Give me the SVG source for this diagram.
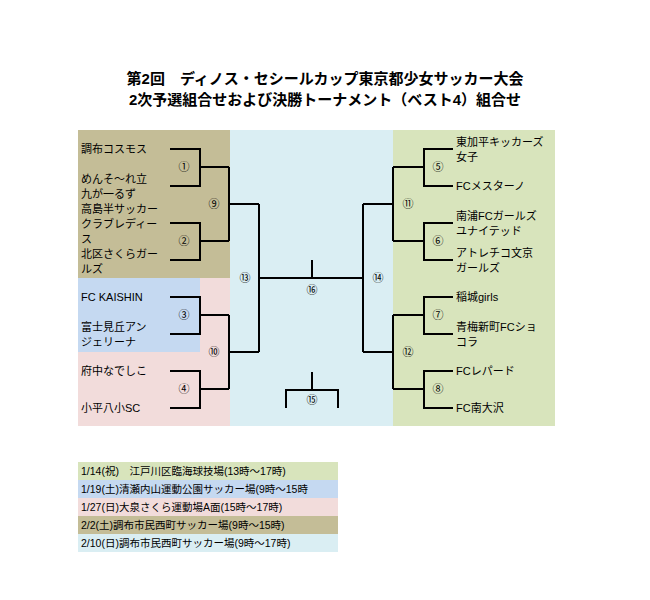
<svg xmlns="http://www.w3.org/2000/svg" width="650" height="600" viewBox="0 0 650 600">
<style>
text{font-family:"Liberation Sans","Noto Sans CJK JP",sans-serif;font-size:11px;fill:#000}
.t{font-size:15px;font-weight:bold;text-anchor:middle}
.n{font-size:11px;text-anchor:middle}
.l{font-size:10.5px}
#connectors path{fill:none;stroke:#000;stroke-width:2}
</style>
<rect width="650" height="600" fill="#fff"/>
<g id="bg">
<rect x="78" y="130" width="152" height="148" fill="#c4bd97"/>
<rect x="78" y="278" width="152" height="148" fill="#f2dcdb"/>
<rect x="78" y="278" width="122" height="74" fill="#c5d9f1"/>
<rect x="230" y="130" width="163" height="296" fill="#daeef3"/>
<rect x="393" y="130" width="162" height="296" fill="#d8e4bc"/>
</g>
<g id="title">
<text class="t" x="325" y="84">第2回　ディノス・セシールカップ東京都少女サッカー大会</text>
<text class="t" x="325" y="105">2次予選組合せおよび決勝トーナメント（ベスト4）組合せ</text>
</g>
<g id="connectors">
<path d="M170 149H200V186H170M200 167H229"/>
<path d="M170 223H200V260H170M200 241H229"/>
<path d="M170 297H200V334H170M200 315H229"/>
<path d="M170 371H200V408H170M200 389H229"/>
<path d="M229 167V241M229 204H259M229 315V389M229 352H259"/>
<path d="M259 204V352M259 278H363M312 260V278"/>
<path d="M453 149H424V186H453M424 167H393"/>
<path d="M453 223H424V260H453M424 241H393"/>
<path d="M453 297H424V334H453M424 315H393"/>
<path d="M453 371H424V408H453M424 389H393"/>
<path d="M393 167V241M393 204H363M393 315V389M393 352H363M363 204V352"/>
<path d="M312 372V390M286 408V390H338V408"/>
</g>
<g id="teams-left">
<text x="81" y="153">調布コスモス</text>
<text x="81" y="183">めんそ～れ立</text>
<text x="81" y="198">九が一るず</text>
<text x="81" y="213">高島半サッカー</text>
<text x="81" y="228">クラブレディー</text>
<text x="81" y="243">ス</text>
<text x="81" y="258">北区さくらガー</text>
<text x="81" y="273">ルズ</text>
<text x="81" y="301">FC KAISHIN</text>
<text x="81" y="331">富士見丘アン</text>
<text x="81" y="346">ジェリーナ</text>
<text x="81" y="375">府中なでしこ</text>
<text x="81" y="412">小平八小SC</text>
</g>
<g id="teams-right">
<text x="456" y="146">東加平キッカーズ</text>
<text x="456" y="161">女子</text>
<text x="456" y="190">FCメスターノ</text>
<text x="456" y="220">南浦FCガールズ</text>
<text x="456" y="235">ユナイテッド</text>
<text x="456" y="257">アトレチコ文京</text>
<text x="456" y="272">ガールズ</text>
<text x="456" y="301">稲城girls</text>
<text x="456" y="331">青梅新町FCショ</text>
<text x="456" y="346">コラ</text>
<text x="456" y="375">FCレパード</text>
<text x="456" y="412">FC南大沢</text>
</g>
<g id="numbers">
<text class="n" x="184" y="171">①</text>
<text class="n" x="184" y="245">②</text>
<text class="n" x="184" y="319">③</text>
<text class="n" x="184" y="393">④</text>
<text class="n" x="214" y="208">⑨</text>
<text class="n" x="214" y="356">⑩</text>
<text class="n" x="245" y="282">⑬</text>
<text class="n" x="312" y="294">⑯</text>
<text class="n" x="312" y="404">⑮</text>
<text class="n" x="378" y="282">⑭</text>
<text class="n" x="408" y="208">⑪</text>
<text class="n" x="408" y="356">⑫</text>
<text class="n" x="438" y="171">⑤</text>
<text class="n" x="438" y="245">⑥</text>
<text class="n" x="438" y="319">⑦</text>
<text class="n" x="438" y="393">⑧</text>
</g>
<g id="legend">
<rect x="78" y="462" width="260" height="18" fill="#d8e4bc"/>
<rect x="78" y="480" width="260" height="18" fill="#c5d9f1"/>
<rect x="78" y="498" width="260" height="18" fill="#f2dcdb"/>
<rect x="78" y="516" width="260" height="18" fill="#c4bd97"/>
<rect x="78" y="534" width="260" height="18" fill="#daeef3"/>
<text class="l" x="81" y="475">1/14(祝)　江戸川区臨海球技場(13時～17時)</text>
<text class="l" x="81" y="493">1/19(土)清瀬内山運動公園サッカー場(9時～15時</text>
<text class="l" x="81" y="511">1/27(日)大泉さくら運動場A面(15時～17時)</text>
<text class="l" x="81" y="529">2/2(土)調布市民西町サッカー場(9時～15時)</text>
<text class="l" x="81" y="547">2/10(日)調布市民西町サッカー場(9時～17時)</text>
</g>
</svg>
